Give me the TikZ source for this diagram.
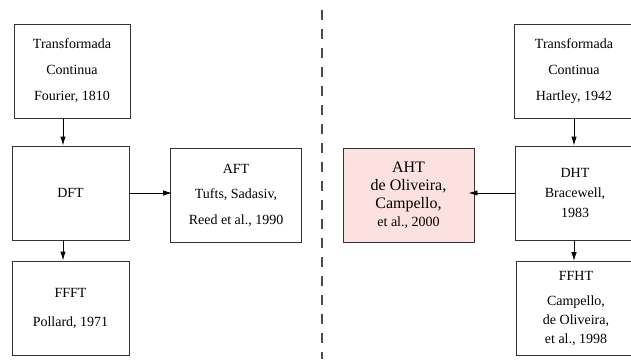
\documentclass[tikz,border=0pt]{standalone}
\usepackage{fontspec}
\setmainfont{Liberation Serif}
\usetikzlibrary{positioning, arrows.meta}
\definecolor{ahtpink}{RGB}{253,224,224}

\begin{document}
\begin{tikzpicture}[x=1pt, y=-1pt,
    % Node styles
    box/.style={draw=black!80, line width=0.9pt, minimum width=117pt, minimum height=94pt,
                align=center, inner sep=0pt, font=\fontsize{14}{19}\selectfont},
    hi/.style={box, fill=ahtpink, minimum width=131pt, font=\fontsize{16}{18}\selectfont},
    % Arrow styles
    flow/.style={-{Latex[length=9pt, width=5.5pt]}, line width=0.9pt},
    divider/.style={dash pattern=on 10pt off 9pt, line width=1.2pt, black!70},
]

\clip (0,0) rectangle (631,359);

% Fourier side
\node[box, minimum width=116pt] (ctf) at (72,71) {Transformada\\[7pt] Continua\\[7pt] Fourier, 1810};
\node[box] (dft) at (70.5,193) {DFT};
\node[box] (ffft) at (70.5,308) {FFFT\\[10pt] Pollard, 1971};
\node[box, minimum width=131pt] (aft) at (236,195) {AFT\\[6.5pt] Tufts, Sadasiv,\\[6.5pt] Reed et al., 1990};

% divider
\draw[divider] (322,10) -- (322,359);

% Hartley side
\node[box, minimum width=120pt] (cth) at (574,71) {Transformada\\[7pt] Continua\\[7pt] Hartley, 1942};
\node[box, minimum width=120pt] (dht) at (575,193) {DHT\\[1pt] Bracewell,\\[1pt] 1983};
\node[box, minimum width=120pt] (ffht) at (576,308.5) {FFHT\\[6pt] Campello,\\ de Oliveira,\\ et al., 1998};
\node[hi] (aht) at (408.5,195) {AHT\\ de Oliveira,\\ Campello,\\ {\fontsize{14}{17}\selectfont et al., 2000}};

% Arrows
\draw[flow] ([xshift=-9pt]ctf.south) -- ([xshift=-7.5pt]dft.north);
\draw[flow] ([xshift=-7.5pt]dft.south) -- ([xshift=-7.5pt]ffft.north);
\draw[flow] (dft.east) -- ([xshift=2pt]dft.east -| aft.west);
\draw[flow] (cth.south) -- ([xshift=-1pt]dht.north);
\draw[flow] ([xshift=-1pt]dht.south) -- ([xshift=-2pt]ffht.north);
\draw[flow] (dht.west) -- ([xshift=-6pt]dht.west -| aht.east);
\end{tikzpicture}
\end{document}
